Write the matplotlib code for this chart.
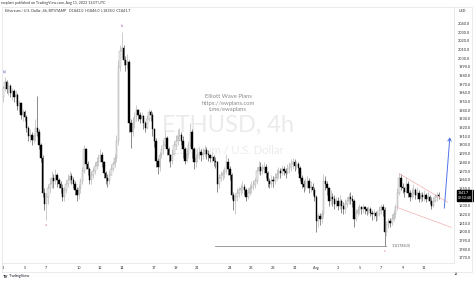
import numpy as np
import matplotlib
matplotlib.use("Agg")
import matplotlib.pyplot as plt
from matplotlib.patches import FancyArrowPatch, Rectangle

plt.rcParams.update({"font.family": ["Lato", "DejaVu Sans"]})

W, H = 474, 281

# ETHUSD 4h candles, Jul 3 -> Aug 11 2023 (6 per day)
first_open = 1955
close = [
    1966, 1972, 1965, 1968, 1960, 1962,   # Jul 3
    1955, 1958, 1945, 1948, 1935, 1938,
    1932, 1920, 1910, 1912, 1906, 1910,
    1920, 1915, 1900, 1885, 1845, 1832,
    1840, 1850, 1855, 1862, 1858, 1865,   # Jul 7
    1860, 1855, 1850, 1840, 1848, 1855,
    1860, 1864, 1860, 1855, 1848, 1842,
    1850, 1858, 1870, 1895, 1878, 1872,   # Jul 10
    1860, 1865, 1870, 1876, 1880, 1885,
    1888, 1880, 1868, 1862, 1858, 1865,
    1872, 1878, 1885, 1905, 1990, 2008,   # Jul 13
    2012, 1998, 1992, 1996, 1925, 1915,
    1925, 1932, 1940, 1935, 1930, 1933,
    1925, 1920, 1930, 1938, 1935, 1918,
    1905, 1882, 1875, 1888, 1895, 1900,   # Jul 17
    1908, 1895, 1888, 1882, 1890, 1900,
    1905, 1910, 1912, 1905, 1895, 1882,
    1890, 1900, 1915, 1895, 1880, 1885,
    1888, 1892, 1888, 1890, 1894, 1890,   # Jul 21
    1888, 1885, 1886, 1882, 1880, 1855,
    1862, 1865, 1868, 1870, 1880, 1872,
    1865, 1842, 1835, 1840, 1845, 1848,   # Jul 24
    1850, 1852, 1848, 1840, 1845, 1850,
    1852, 1855, 1858, 1870, 1875, 1870,
    1872, 1875, 1868, 1858, 1855, 1860,
    1858, 1862, 1866, 1870, 1868, 1872,   # Jul 28
    1870, 1868, 1872, 1875, 1878, 1880,
    1876, 1878, 1874, 1862, 1855, 1852,
    1856, 1858, 1850, 1852, 1848, 1840,
    1812, 1818, 1815, 1820, 1858, 1855,   # Aug 1
    1850, 1835, 1840, 1838, 1832, 1836,
    1830, 1835, 1830, 1826, 1832, 1836,
    1840, 1838, 1835, 1815, 1822, 1825,
    1828, 1826, 1828, 1826, 1824, 1826,   # Aug 5
    1822, 1820, 1822, 1818, 1820, 1825,
    1828, 1825, 1800, 1808, 1812, 1810,
    1815, 1820, 1828, 1845, 1862, 1852,   # Aug 8
    1850, 1846, 1855, 1845, 1840, 1845,
    1848, 1842, 1845, 1838, 1842, 1840,
    1842, 1838, 1840, 1836, 1830, 1836, 1840, 1842, 1841.7,   # Aug 11
]
high = [
    1968, 1978, 1975, 1972, 1970, 1966,
    1965, 1963, 1960, 1952, 1950, 1942,
    1940, 1934, 1922, 1918, 1915, 1914,
    1930, 1956, 1918, 1902, 1888, 1850,
    1845, 1855, 1862, 1870, 1866, 1872,
    1868, 1862, 1858, 1855, 1852, 1860,
    1866, 1870, 1868, 1863, 1858, 1852,
    1855, 1862, 1875, 1900, 1897, 1882,
    1875, 1870, 1875, 1880, 1886, 1890,
    1895, 1892, 1882, 1870, 1866, 1870,
    1878, 1882, 1890, 1912, 1998, 2015,
    2030, 2015, 2002, 2005, 1998, 1930,
    1932, 1938, 1946, 1942, 1938, 1938,
    1935, 1928, 1935, 1942, 1940, 1938,
    1920, 1908, 1885, 1892, 1900, 1906,
    1916, 1910, 1898, 1890, 1895, 1905,
    1912, 1918, 1920, 1915, 1910, 1898,
    1895, 1905, 1925, 1918, 1898, 1890,
    1895, 1898, 1895, 1896, 1900, 1898,
    1894, 1890, 1892, 1888, 1886, 1882,
    1866, 1870, 1872, 1875, 1890, 1885,
    1876, 1868, 1846, 1845, 1850, 1852,
    1855, 1858, 1855, 1850, 1850, 1855,
    1858, 1860, 1862, 1875, 1882, 1880,
    1878, 1880, 1878, 1870, 1862, 1865,
    1864, 1868, 1872, 1875, 1874, 1877,
    1876, 1874, 1878, 1880, 1884, 1885,
    1884, 1882, 1880, 1876, 1865, 1860,
    1862, 1864, 1862, 1858, 1856, 1852,
    1842, 1822, 1822, 1825, 1866, 1864,
    1858, 1852, 1848, 1845, 1842, 1840,
    1840, 1842, 1838, 1834, 1838, 1840,
    1845, 1846, 1842, 1838, 1826, 1830,
    1832, 1830, 1832, 1830, 1828, 1830,
    1828, 1825, 1826, 1824, 1825, 1830,
    1832, 1832, 1828, 1812, 1816, 1816,
    1820, 1825, 1832, 1850, 1868, 1866,
    1856, 1852, 1863, 1858, 1848, 1850,
    1855, 1850, 1852, 1848, 1846, 1846,
    1848, 1845, 1846, 1842, 1840, 1840, 1844, 1846, 1846,
]
low = [
    1950, 1962, 1960, 1958, 1955, 1952,
    1950, 1948, 1940, 1938, 1930, 1928,
    1928, 1915, 1905, 1903, 1900, 1902,
    1905, 1910, 1895, 1880, 1840, 1825,
    1814, 1832, 1845, 1850, 1850, 1855,
    1852, 1850, 1845, 1835, 1836, 1845,
    1852, 1856, 1855, 1850, 1842, 1836,
    1838, 1845, 1855, 1868, 1872, 1865,
    1855, 1855, 1862, 1866, 1872, 1876,
    1880, 1875, 1862, 1855, 1852, 1855,
    1865, 1870, 1875, 1880, 1900, 1985,
    2000, 1992, 1985, 1988, 1915, 1897,
    1910, 1920, 1928, 1928, 1925, 1926,
    1918, 1915, 1918, 1928, 1928, 1910,
    1898, 1875, 1867, 1870, 1885, 1890,
    1898, 1888, 1880, 1875, 1878, 1888,
    1895, 1900, 1905, 1900, 1885, 1878,
    1880, 1885, 1898, 1885, 1872, 1875,
    1880, 1884, 1882, 1884, 1886, 1884,
    1882, 1880, 1880, 1876, 1874, 1846,
    1850, 1858, 1860, 1862, 1866, 1865,
    1860, 1838, 1825, 1820, 1835, 1840,
    1842, 1845, 1842, 1836, 1838, 1842,
    1845, 1848, 1850, 1855, 1866, 1865,
    1866, 1868, 1862, 1852, 1850, 1852,
    1852, 1855, 1860, 1862, 1862, 1865,
    1865, 1862, 1866, 1868, 1870, 1872,
    1870, 1872, 1868, 1858, 1850, 1846,
    1848, 1850, 1845, 1846, 1842, 1835,
    1800, 1806, 1808, 1810, 1816, 1848,
    1842, 1830, 1832, 1830, 1826, 1828,
    1825, 1826, 1822, 1820, 1822, 1828,
    1832, 1832, 1828, 1805, 1812, 1818,
    1820, 1820, 1822, 1821, 1819, 1820,
    1818, 1814, 1815, 1812, 1814, 1818,
    1820, 1818, 1784, 1795, 1804, 1805,
    1808, 1812, 1816, 1825, 1842, 1848,
    1845, 1840, 1845, 1840, 1836, 1838,
    1840, 1838, 1838, 1834, 1834, 1835,
    1836, 1834, 1835, 1832, 1826, 1828, 1834, 1836, 1838,
]

# time axis labels (candle index) and price axis levels
tick_idx = [0, 12, 24, 42, 54, 66, 84, 96, 108, 126, 138, 150, 162, 174,
            186, 198, 210, 222, 234]
tick_lab = ["3", "5", "7", "10", "12", "14", "17", "19", "21", "24", "26", "28",
            "31", "Aug", "3", "5", "7", "9", "11"]
price_ticks = list(range(1770, 2041, 10))

# drawings
fib_from, fib_text = 118, "1.1"
channel_upper = [(220, 1867), (247, 1834)]
channel_lower = [(219, 1828), (249, 1805)]
arrow_pts = [(245, 1824), (248.3, 1912)]
waves = [(1, "(a)", "high", "#5c6bc0"), (24, "a", "low", "#e06c8c"),
         (66, "b", "high", "#b06ab3"), (212, "c", "low", "#e06c8c")]

c = np.array(close, float)
o = np.r_[first_open, c[:-1]]
h = np.maximum(np.array(high, float), np.maximum(o, c))
l = np.minimum(np.array(low, float), np.minimum(o, c))
x = np.arange(len(c))
up = c >= o

fig = plt.figure(figsize=(W / 100, H / 100), dpi=100)
fig.patch.set_facecolor("white")
ax = fig.add_axes([2 / W, 1 - 263 / H, 452 / W, 256 / H])
ax.set_xlim(-0.6, 250.5)
ax.set_ylim(1764, 2059)

ax.vlines(x[up], l[up], h[up], color="#a8a8a8", lw=0.4, zorder=2)
ax.vlines(x[~up], l[~up], h[~up], color="#333333", lw=0.4, zorder=2)
body = np.maximum(np.abs(c - o), 0.7)
ax.bar(x[up], body[up], bottom=np.minimum(o, c)[up], width=0.72,
       facecolor="#ececec", edgecolor="#a0a0a0", lw=0.3, zorder=3)
ax.bar(x[~up], body[~up], bottom=np.minimum(o, c)[~up], width=0.72,
       facecolor="#000000", edgecolor="#000000", lw=0.3, zorder=3)

# watermark
ax.text(0.5, 1 - (125 - 7) / 256, "ETHUSD, 4h", transform=ax.transAxes, ha="center",
        va="center", fontsize=17, color="#ebebeb", zorder=1)
ax.text(0.5, 1 - (150 - 7) / 256, "Ethereum / U.S. Dollar", transform=ax.transAxes,
        ha="center", va="center", fontsize=8, color="#ebebeb", zorder=1)
for yy, t in [(97, "Elliott Wave Plans"), (103, "https://ewplans.com"), (109, "t.me/ewaplans")]:
    ax.text(0.5, 1 - (yy - 7) / 256, t, transform=ax.transAxes, ha="center",
            va="center", fontsize=4.2, color="#8a8a8a", zorder=1)

# fib level at the wave c low
lvl = l[212]
ax.plot([fib_from, 213], [lvl, lvl], color="#8c8c8c", lw=0.6, zorder=4)
ax.text(216, lvl, f"{fib_text}({lvl:.1f})", fontsize=2.6, color="#555555",
        va="center", ha="left")

for (x0, y0), (x1, y1) in [channel_upper, channel_lower]:
    ax.plot([x0, x1], [y0, y1], color="#f2a7a7", lw=0.5, alpha=0.9, zorder=4)

ax.add_patch(FancyArrowPatch(arrow_pts[0], arrow_pts[1], arrowstyle="->,head_length=2,head_width=1.2",
                             color="#4f73e8", lw=0.7, zorder=5))

for i, t, side, col in waves:
    if side == "high":
        ax.annotate(t, (i, h[i]), xytext=(0, 3), textcoords="offset points",
                    ha="center", va="bottom", fontsize=3, color=col)
    else:
        ax.annotate(t, (i, l[i]), xytext=(0, -2.5), textcoords="offset points",
                    ha="center", va="top", fontsize=3, color=col)

# axes styling
for s in ["top", "left"]:
    ax.spines[s].set_visible(False)
ax.spines["right"].set_color("#e3e3e3")
ax.spines["bottom"].set_color("#e3e3e3")
ax.spines["right"].set_linewidth(0.5)
ax.spines["bottom"].set_linewidth(0.5)
ax.yaxis.tick_right()
ax.set_yticks(price_ticks)
# the level under the last-price tag is hidden, as on the chart
ax.set_yticklabels(["" if abs(v - c[-1]) < 5 else f"{v:.1f}" for v in price_ticks])
ax.set_xticks(tick_idx)
ax.set_xticklabels(tick_lab)
ax.tick_params(axis="y", length=0, pad=3, labelsize=2.8, labelcolor="#333333")
ax.tick_params(axis="x", length=0, pad=2.5, labelsize=2.8, labelcolor="#333333")
ax.text(251.5, -0.035, "14", transform=ax.get_xaxis_transform(), fontsize=2.8,
        color="#333333", ha="center", va="top", clip_on=False)

# last price tag
ax.annotate(f"{c[-1]:.1f}\n02:52:48", (1.0, c[-1]), xycoords=("axes fraction", "data"),
            xytext=(3, 0), textcoords="offset points", fontsize=2.5, color="white",
            ha="left", va="center", linespacing=1.1,
            bbox=dict(boxstyle="square,pad=0.35", fc="black", ec="black"),
            annotation_clip=False)
fig.text(462 / W, 1 - 11 / H, "USD", fontsize=2.6, color="#333333", ha="center", va="center")

# frame and header
frame = Rectangle((2 / W, 1 - 272 / H), 470 / W, 265 / H, transform=fig.transFigure,
                  fill=False, ec="#e3e3e3", lw=0.5)
fig.patches.append(frame)
fig.text(1 / W, 1 - 3 / H, "ewplans published on TradingView.com, Aug 11, 2023 13:07 UTC",
         fontsize=2.6, color="#333333", ha="left", va="center")
fig.text(5 / W, 1 - 10.5 / H,
         f"Ethereum / U.S. Dollar, 4h, BITSTAMP   O{o[-1]:.1f}  H{h[-1]:.1f}  L{l[-1]:.1f}  C{c[-1]:.1f}",
         fontsize=2.6, color="#333333", ha="left", va="center")
fig.text(3 / W, 1 - 276.5 / H, "TV", fontsize=3, color="#131722", ha="left",
         va="center", fontweight="bold")
fig.text(9 / W, 1 - 276.5 / H, "TradingView", fontsize=2.8, color="#131722",
         ha="left", va="center")

fig.savefig("out.png", dpi=100)
